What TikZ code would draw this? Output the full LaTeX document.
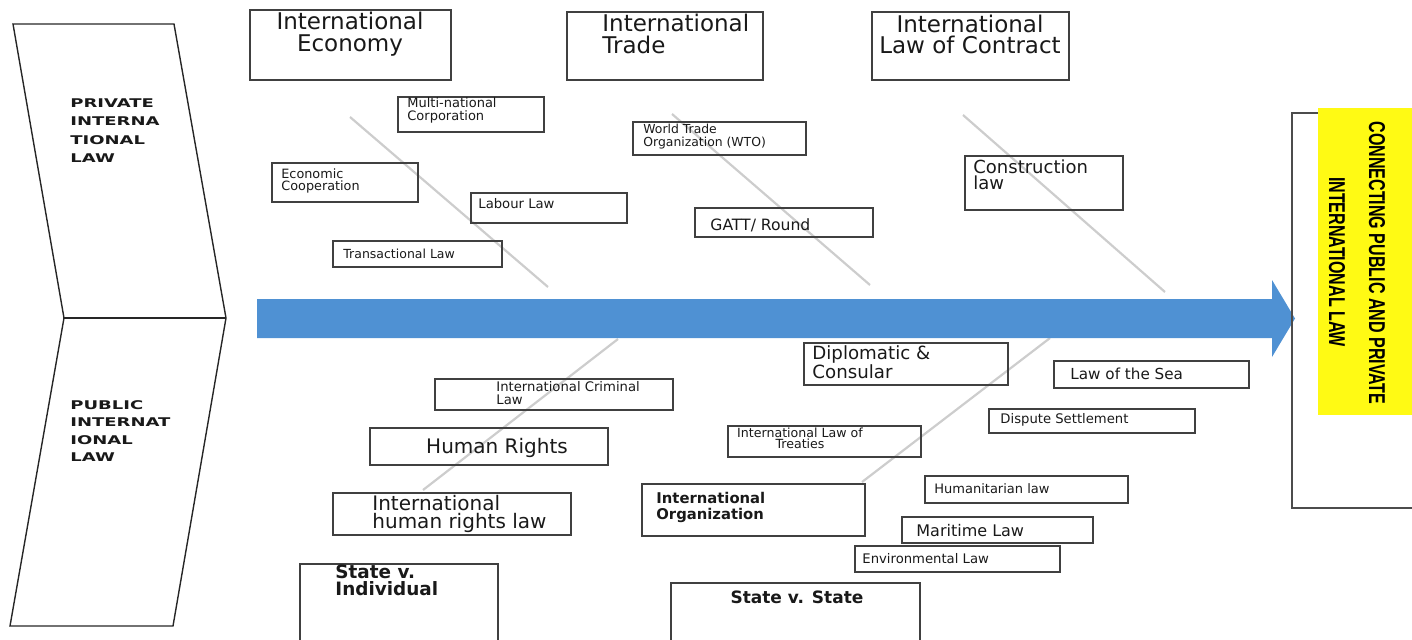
\documentclass[tikz,border=0pt]{standalone}
\usepackage{fontspec}
\usepackage{graphicx}
\setmainfont{DejaVu Sans}
\newfontfamily\widefont[FakeStretch=1.5]{DejaVu Sans}
\newfontfamily\narrowfont{Liberation Sans}
\usetikzlibrary{fit}
\newcommand{\fsz}[2]{\fontsize{#1pt}{#2pt}\selectfont}
\definecolor{arrowblue}{RGB}{79,145,211}
\definecolor{boneGray}{RGB}{205,205,205}
\definecolor{hiYellow}{RGB}{255,250,20}

\begin{document}
\begin{tikzpicture}[x=0.5pt,y=-0.5pt,
  box/.style={draw=black!75, line width=0.7pt, inner sep=0pt},
  txt/.style={inner sep=0pt, align=left, text=black!90},
  bone/.style={draw=boneGray, line width=1.1pt},
  chev/.style={draw=black!85, line width=0.7pt, line join=miter}]
\useasboundingbox (0,0) rectangle (1412,639);

% ---- left chevron with the two branches of law
\coordinate (cTL) at (13,24);
\coordinate (cTR) at (174,24);
\coordinate (cTip) at (226,318);
\coordinate (cBR) at (173,626);
\coordinate (cBL) at (10,626);
\coordinate (cML) at (64,318);
\draw[chev] (cTL) -- (cTR) -- (cTip) -- (cBR) -- (cBL) -- (cML) -- cycle;
\draw[chev] (cML) -- (cTip);
\node[txt, anchor=west, font=\widefont\bfseries\fsz{6}{9.15}] (pil) at (70,130.5)
  {PRIVATE\\INTERNA\\TIONAL\\LAW};
\node[txt, anchor=west, font=\widefont\bfseries\fsz{6}{8.8}] (pubil) at (70,431)
  {PUBLIC\\INTERNAT\\IONAL\\LAW};

% ---- fish bones
\coordinate (b1a) at (350,117);  \coordinate (b1b) at (548,287);
\coordinate (b2a) at (672,114);  \coordinate (b2b) at (870,285);
\coordinate (b3a) at (963,115);  \coordinate (b3b) at (1165,292);
\coordinate (b4a) at (618,339);  \coordinate (b4b) at (423,490);
\coordinate (b5a) at (1050,338); \coordinate (b5b) at (862,482);
\draw[bone] (b1a) -- (b1b);
\draw[bone] (b2a) -- (b2b);
\draw[bone] (b3a) -- (b3b);
\draw[bone] (b4a) -- (b4b);
\draw[bone] (b5a) -- (b5b);

% ---- main spine arrow
\fill[arrowblue] (257,299) -- (1272,299) -- (1272,280) -- (1295,318.5)
  -- (1272,357) -- (1272,338) -- (257,338) -- cycle;

% ---- right-hand result box
\draw[draw=black!70, line width=0.7pt] (1420,113) -- (1292,113) -- (1292,508) -- (1420,508);
\node[fill=hiYellow, inner sep=0pt, fit={(1318,108) (1416,415)}] (goal) {};
\node[rotate=-90, inner sep=0pt] (conn1) at (1377,263)
  {\narrowfont\bfseries\resizebox{141.5pt}{8pt}{CONNECTING PUBLIC AND PRIVATE}};
\node[rotate=-90, inner sep=0pt] (conn2) at (1337,262)
  {\narrowfont\bfseries\resizebox{85pt}{8pt}{INTERNATIONAL LAW}};

% ---- private international law: headings
\node[box, fit={(250,10) (451,80)}] (eco) {};
\node[txt, align=center, font=\fsz{11.5}{11}] (ecoT) at (350,34) {International\\Economy};
\node[box, fit={(567,12) (763,80)}] (trade) {};
\node[txt, anchor=west, font=\fsz{11.5}{11}] (tradeT) at (602,34) {International\\Trade};
\node[box, fit={(872,12) (1069,80)}] (contract) {};
\node[txt, align=center, font=\fsz{11.5}{10.7}] (contractT) at (970,34.5) {International\\Law of Contract};

% ---- private international law: topics
\node[box, fit={(398,97) (544,132)}] (mnc) {};
\node[txt, anchor=west, font=\fsz{6.5}{6.5}] (mncT) at (407,110.5) {Multi-national\\Corporation};
\node[box, fit={(633,122) (806,155)}] (wto) {};
\node[txt, anchor=west, font=\fsz{6.2}{6.5}] (wtoT) at (643,136.5) {World Trade\\Organization (WTO)};
\node[box, fit={(272,163) (418,202)}] (econ) {};
\node[txt, anchor=west, font=\fsz{6.4}{6}] (econT) at (281,181) {Economic\\Cooperation};
\node[box, fit={(965,156) (1123,210)}] (constr) {};
\node[txt, anchor=west, font=\fsz{9}{8}] (constrT) at (973,175) {Construction\\law};
\node[box, fit={(471,193) (627,223)}] (labour) {};
\node[txt, anchor=west, font=\fsz{6.6}{7}] (labourT) at (478,204) {Labour Law};
\node[box, fit={(695,208) (873,237)}] (gatt) {};
\node[txt, anchor=west, font=\fsz{7.8}{8}] (gattT) at (710,225) {GATT/ Round};
\node[box, fit={(333,241) (502,267)}] (trans) {};
\node[txt, anchor=west, font=\fsz{6.25}{7}] (transT) at (343,254) {Transactional Law};

% ---- public international law: topics
\node[box, fit={(804,343) (1008,385)}] (dipl) {};
\node[txt, anchor=west, font=\fsz{9.1}{9.5}] (diplT) at (812,362.5) {Diplomatic \&\\Consular};
\node[box, fit={(1054,361) (1249,388)}] (sea) {};
\node[txt, anchor=west, font=\fsz{7.6}{8}] (seaT) at (1070,374) {Law of the Sea};
\node[box, fit={(435,379) (673,410)}] (crim) {};
\node[txt, anchor=west, font=\fsz{6.6}{6.5}] (crimT) at (496,393.5) {International Criminal\\Law};
\node[box, fit={(989,409) (1195,433)}] (disp) {};
\node[txt, anchor=west, font=\fsz{6.6}{7}] (dispT) at (1000,420) {Dispute Settlement};
\node[box, fit={(370,428) (608,465)}] (hr) {};
\node[txt, font=\fsz{10}{10}] (hrT) at (497,448) {Human Rights};
\node[box, fit={(728,426) (921,457)}] (treaty) {};
\node[txt, align=center, font=\fsz{6.3}{5.5}] (treatyT) at (800,438.5) {International Law of\\Treaties};
\node[box, fit={(925,476) (1128,503)}] (hum) {};
\node[txt, anchor=west, font=\fsz{6.5}{7}] (humT) at (934,489) {Humanitarian law};
\node[box, fit={(333,493) (571,535)}] (ihrl) {};
\node[txt, anchor=west, font=\fsz{10}{9}] (ihrlT) at (372,514) {International\\human rights law};
\node[box, fit={(642,484) (865,536)}] (org) {};
\node[txt, anchor=west, font=\bfseries\fsz{7.4}{8}] (orgT) at (656,507) {International\\Organization};
\node[box, fit={(902,517) (1093,543)}] (mar) {};
\node[txt, anchor=west, font=\fsz{8}{8}] (marT) at (916,531) {Maritime Law};
\node[box, fit={(855,546) (1060,572)}] (env) {};
\node[txt, anchor=west, font=\fsz{6.6}{7}] (envT) at (862,559) {Environmental Law};

% ---- parties
\node[box, fit={(300,564) (498,645)}] (sind) {};
\node[txt, anchor=west, font=\bfseries\fsz{9.2}{8.5}] (sindT) at (335,580.5) {State v.\\Individual};
\node[box, fit={(671,583) (920,645)}] (sst) {};
\node[txt, font=\bfseries\fsz{8.5}{8.5}] (sstT) at (797,597) {State v. State};
\end{tikzpicture}
\end{document}
